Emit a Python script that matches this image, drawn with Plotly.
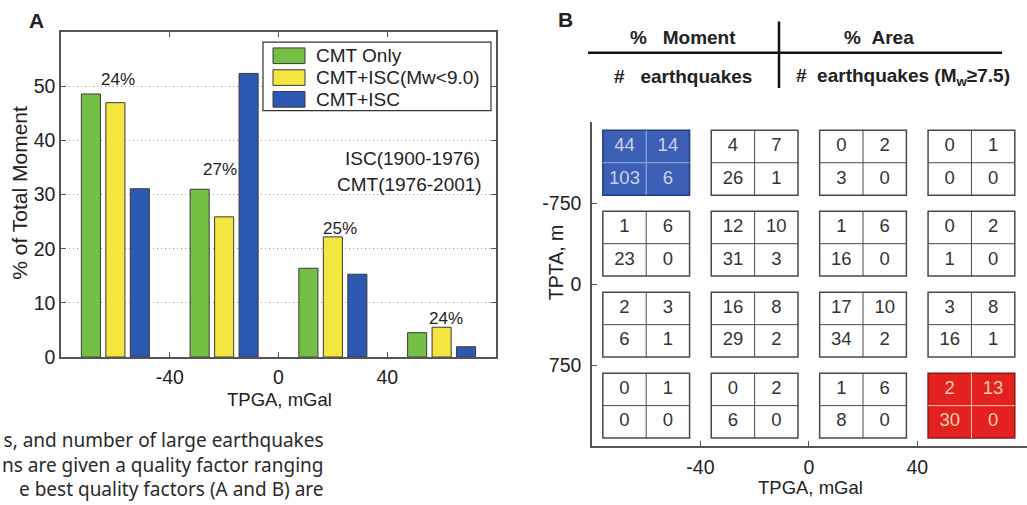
import plotly.graph_objects as go

W, H = 1027, 505

# ---------------- Panel A data ----------------
tpga_bins = [-60, -20, 20, 60]
series_names = ["CMT Only", "CMT+ISC(Mw<9.0)", "CMT+ISC"]
cmt_only = [48.6, 31.0, 16.4, 4.5]
cmt_isc_lt9 = [47.0, 25.9, 22.2, 5.5]
cmt_isc = [31.1, 52.4, 15.3, 1.9]
area_labels = ["24%", "27%", "25%", "24%"]
area_label_x = [-59, -21.5, 22.5, 61.5]
area_label_y = [51.2, 34.6, 23.8, 7.2]
a_yticks = [0, 10, 20, 30, 40, 50]
a_xticks = [-40, 0, 40]
a_xticktext = ["-40", "0", "40"]

# ---------------- Panel B data ----------------
tpga_cols = [-60, -20, 20, 60]
tpta_rows = [-1125, -375, 375, 1125]
pct_moment = [[44, 4, 0, 0],
              [1, 12, 1, 0],
              [2, 16, 17, 3],
              [0, 0, 1, 2]]
pct_area = [[14, 7, 2, 1],
            [6, 10, 6, 2],
            [3, 8, 10, 8],
            [1, 2, 6, 13]]
n_eq = [[103, 26, 3, 0],
        [23, 31, 16, 1],
        [6, 29, 34, 16],
        [0, 6, 8, 30]]
n_eq75 = [[6, 1, 0, 0],
          [0, 3, 0, 0],
          [1, 2, 2, 1],
          [0, 0, 0, 0]]
highlight = {(0, 0): "blue", (3, 3): "red"}
b_xticks = [-40, 0, 40]
b_xticktext = ["-40", "0", "40"]
b_yticks = [-750, 0, 750]
b_yticktext = ["-750", "0", "750"]

caption_lines = ["s, and number of large earthquakes",
                 "ns are given a quality factor ranging",
                 "e best quality factors (A and B) are"]

# ---------------- styles ----------------
GREEN, YELLOW, BLUE = "#76bf45", "#f4e53f", "#2d58b2"
series_colors = [GREEN, YELLOW, BLUE]
FONT = "Liberation Sans, Arial, sans-serif"
TXT = "#222222"
AX = "#555555"
cell_w, cell_h = 32, 600
hl_style = {
    "blue": dict(fill="#3a5fb4", border="#203c80", div="#9fb0dc", text="#c9d1ee"),
    "red": dict(fill="#e4211f", border="#8a1c18", div="#f7c7a4", text="#f8cdb0"),
}


def px(x):
    return x / W


def py(y):
    return 1 - y / H


fig = go.Figure()

for name, vals, col in zip(series_names, [cmt_only, cmt_isc_lt9, cmt_isc],
                           series_colors):
    fig.add_trace(go.Bar(
        x=tpga_bins, y=vals, name=name, xaxis="x", yaxis="y",
        marker=dict(color=col, line=dict(color="#3a3a3a", width=1)),
        showlegend=False,
    ))

# Panel B cells
shapes = []
tx, ty, tt, tc = [], [], [], []
for i, yc in enumerate(tpta_rows):
    for j, xc in enumerate(tpga_cols):
        st = hl_style.get(highlight.get((i, j)))
        fill = st["fill"] if st else "white"
        border = st["border"] if st else "#4a4a4a"
        div = st["div"] if st else "#4a4a4a"
        tcol = st["text"] if st else "#333333"
        x0, x1 = xc - cell_w / 2, xc + cell_w / 2
        y0, y1 = yc - cell_h / 2, yc + cell_h / 2
        shapes.append(dict(type="rect", xref="x2", yref="y2", x0=x0, x1=x1,
                           y0=y0, y1=y1, fillcolor=fill,
                           line=dict(color=border, width=1.5), layer="below"))
        shapes.append(dict(type="line", xref="x2", yref="y2", x0=xc, x1=xc,
                           y0=y0, y1=y1, line=dict(color=div, width=1),
                           layer="below"))
        shapes.append(dict(type="line", xref="x2", yref="y2", x0=x0, x1=x1,
                           y0=yc, y1=yc, line=dict(color=div, width=1),
                           layer="below"))
        for dx, dy, v in [(-cell_w / 4, -cell_h / 4, pct_moment[i][j]),
                          (cell_w / 4, -cell_h / 4, pct_area[i][j]),
                          (-cell_w / 4, cell_h / 4, n_eq[i][j]),
                          (cell_w / 4, cell_h / 4, n_eq75[i][j])]:
            tx.append(xc + dx)
            ty.append(yc + dy)
            tt.append(str(v))
            tc.append(tcol)

fig.add_trace(go.Scatter(
    x=tx, y=ty, text=tt, mode="text", xaxis="x2", yaxis="y2",
    textfont=dict(family=FONT, size=18.5, color=tc), showlegend=False,
    hoverinfo="skip",
))

# Header of panel B
shapes.append(dict(type="line", xref="paper", yref="paper", x0=px(588),
                   x1=px(1002), y0=py(54), y1=py(54),
                   line=dict(color="#111111", width=2.5)))
shapes.append(dict(type="line", xref="paper", yref="paper", x0=px(779),
                   x1=px(779), y0=py(22), y1=py(90),
                   line=dict(color="#111111", width=2.5)))

nb = "\u00a0"
annotations = []


def ann(text, x, y, size=18.5, bold=False, angle=0, xanchor="center",
        color=TXT, family=FONT, align="center"):
    annotations.append(dict(
        text=f"<b>{text}</b>" if bold else text, x=px(x), y=py(y),
        xref="paper", yref="paper", showarrow=False, textangle=angle,
        xanchor=xanchor, yanchor="middle", align=align, borderpad=0,
        font=dict(family=family, size=size, color=color)))


# Legend of panel A (box, swatches, labels)
shapes.append(dict(type="rect", xref="paper", yref="paper", x0=px(263),
                   x1=px(491), y0=py(113), y1=py(43), fillcolor="white",
                   line=dict(color="#333333", width=1.2)))
for k, (name, col) in enumerate(zip(series_names, series_colors)):
    yc = 57 + 22.3 * k
    shapes.append(dict(type="rect", xref="paper", yref="paper", x0=px(273),
                       x1=px(305), y0=py(yc + 8), y1=py(yc - 8),
                       fillcolor=col, line=dict(color="#3a3a3a", width=1)))
    ann(name, 315, yc, size=19, xanchor="left")

ann("A", 36, 21, size=21, bold=True)
ann("B", 565, 20, size=21, bold=True)
ann("% of Total Moment", 20, 197, size=21, angle=-90)
ann("TPGA, mGal", 279, 408)
ann("ISC(1900-1976)", 481, 162, size=19, xanchor="right")
ann("CMT(1976-2001)", 483, 189, size=19, xanchor="right")
ann(f"%{nb*3}Moment", 683, 38, size=19, bold=True)
ann(f"#{nb*3}earthquakes", 683, 78, size=19, bold=True)
ann(f"%{nb*2}Area", 879, 38, size=19, bold=True)
ann(f"#{nb*2}earthquakes (M<sub>w</sub>≥7.5)", 903, 79, size=19, bold=True)
ann("TPGA, mGal", 810, 498)
ann("TPTA, m", 556, 269, size=19.5, angle=-90)

cap_font = "Noto Sans, Open Sans, sans-serif"
ann("<br>".join(caption_lines), 325, 475, size=19, xanchor="right",
    color="#2a2a2a", family=cap_font, align="right")

for lx, ly, lt in zip(area_label_x, area_label_y, area_labels):
    annotations.append(dict(text=lt, x=lx, y=ly, xref="x", yref="y",
                            showarrow=False, yanchor="middle",
                            font=dict(family=FONT, size=17, color=TXT)))

tickfont = dict(family=FONT, size=19.5, color=TXT)

fig.update_layout(
    width=W, height=H, margin=dict(l=0, r=0, t=0, b=0),
    paper_bgcolor="white", plot_bgcolor="rgba(0,0,0,0)",
    barmode="group", bargap=0.325, bargroupgap=0.22,
    showlegend=False,
    xaxis=dict(domain=[px(61), px(496)], range=[-80, 80], tickvals=a_xticks,
               ticktext=a_xticktext,
               showline=True, linecolor=AX, linewidth=1.5, mirror="allticks",
               ticks="inside", ticklen=5, tickcolor=AX, showgrid=False,
               zeroline=False, tickfont=tickfont, ticklabelstandoff=2,
               anchor="y"),
    yaxis=dict(domain=[py(365), py(33)], range=[0, 60], tickvals=a_yticks,
               showline=True, linecolor=AX, linewidth=1.5, mirror="allticks",
               ticks="inside", ticklen=5, tickcolor=AX, showgrid=True,
               gridcolor="#999999", griddash="1px,3px", gridwidth=1.2,
               zeroline=False, tickfont=tickfont, anchor="x"),
    xaxis2=dict(domain=[px(592), 1.0], range=[-80, 80.5], tickvals=b_xticks,
                ticktext=b_xticktext,
                showline=True, linecolor=AX, linewidth=1.5, mirror=False,
                ticks="inside", ticklen=5, tickcolor=AX, showgrid=False,
                zeroline=False, tickfont=tickfont, ticklabelstandoff=3,
                anchor="y2"),
    yaxis2=dict(domain=[py(456), py(125)], range=[1500, -1500],
                tickvals=b_yticks, ticktext=b_yticktext, showline=True,
                linecolor=AX, linewidth=1.5,
                mirror=False, ticks="inside", ticklen=5, tickcolor=AX,
                showgrid=False, zeroline=False, tickfont=tickfont,
                ticklabelstandoff=5, anchor="x2"),
    shapes=shapes, annotations=annotations,
)

fig.write_html("out.html")
